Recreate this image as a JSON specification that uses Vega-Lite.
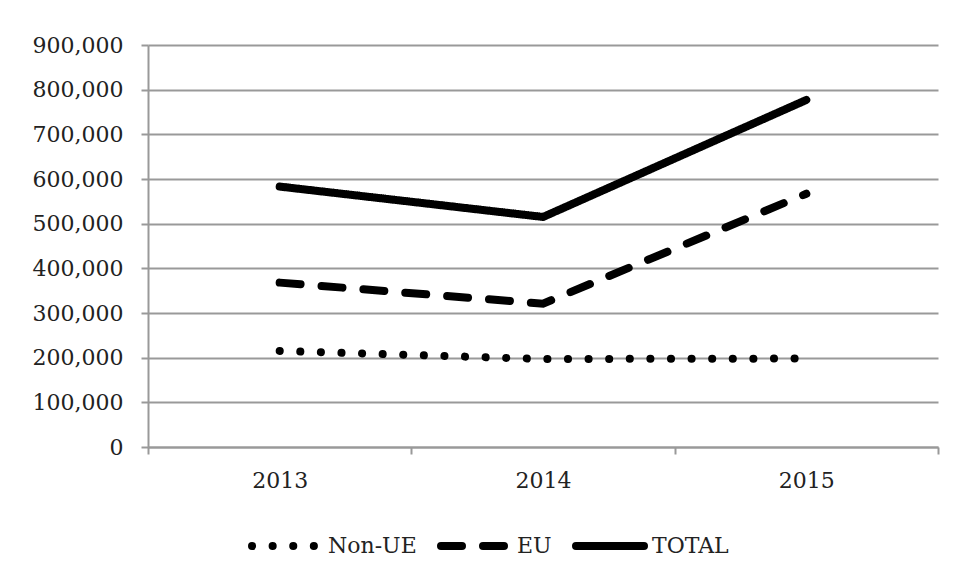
{
  "$schema": "https://vega.github.io/schema/vega-lite/v6.json",
  "width": 790,
  "height": 402,
  "autosize": {"type": "none"},
  "padding": {"left": 148, "top": 45, "right": 19, "bottom": 133},
  "background": "white",
  "config": {
    "view": {"stroke": null},
    "font": "DejaVu Serif"
  },
  "data": {
    "values": [
      {"year": "2013", "series": "Non-UE", "value": 215000},
      {"year": "2014", "series": "Non-UE", "value": 197000},
      {"year": "2015", "series": "Non-UE", "value": 198000},
      {"year": "2013", "series": "EU", "value": 368000},
      {"year": "2014", "series": "EU", "value": 321000},
      {"year": "2015", "series": "EU", "value": 567000},
      {"year": "2013", "series": "TOTAL", "value": 583000},
      {"year": "2014", "series": "TOTAL", "value": 515000},
      {"year": "2015", "series": "TOTAL", "value": 777000}
    ]
  },
  "mark": {"type": "line", "strokeWidth": 8, "strokeCap": "round", "color": "black"},
  "encoding": {
    "x": {
      "field": "year",
      "type": "ordinal",
      "scale": {"type": "band", "paddingInner": 0, "paddingOuter": 0},
      "axis": {
        "title": null,
        "labelAngle": 0,
        "tickBand": "extent",
        "domainColor": "#999999",
        "domainWidth": 2,
        "tickColor": "#999999",
        "tickWidth": 2,
        "tickSize": 7,
        "labelFont": "DejaVu Serif",
        "labelFontSize": 22,
        "labelColor": "#222222",
        "labelPadding": 16
      }
    },
    "y": {
      "field": "value",
      "type": "quantitative",
      "scale": {"domain": [0, 900000]},
      "axis": {
        "title": null,
        "values": [0, 100000, 200000, 300000, 400000, 500000, 600000, 700000, 800000, 900000],
        "format": ",.0f",
        "grid": true,
        "gridColor": "#999999",
        "gridWidth": 2,
        "domainColor": "#999999",
        "domainWidth": 2,
        "tickColor": "#999999",
        "tickWidth": 2,
        "tickSize": 7,
        "labelFont": "DejaVu Serif",
        "labelFontSize": 22,
        "labelColor": "#222222",
        "labelPadding": 18
      }
    },
    "strokeDash": {
      "field": "series",
      "type": "nominal",
      "sort": ["Non-UE", "EU", "TOTAL"],
      "scale": {"domain": ["Non-UE", "EU", "TOTAL"], "range": [[0.1, 20.5], [21, 21], [1, 0]]},
      "legend": {
        "title": null,
        "orient": "none",
        "direction": "horizontal",
        "legendX": 100,
        "legendY": 463,
        "symbolType": "stroke",
        "symbolSize": 4624,
        "symbolStrokeWidth": 8,
        "symbolStrokeColor": "black",
        "labelFont": "DejaVu Serif",
        "labelFontSize": 22,
        "labelColor": "#222222",
        "labelOffset": 4,
        "columnPadding": 8,
        "encode": {"symbols": {"update": {"strokeCap": {"value": "round"}}}}
      }
    }
  }
}
